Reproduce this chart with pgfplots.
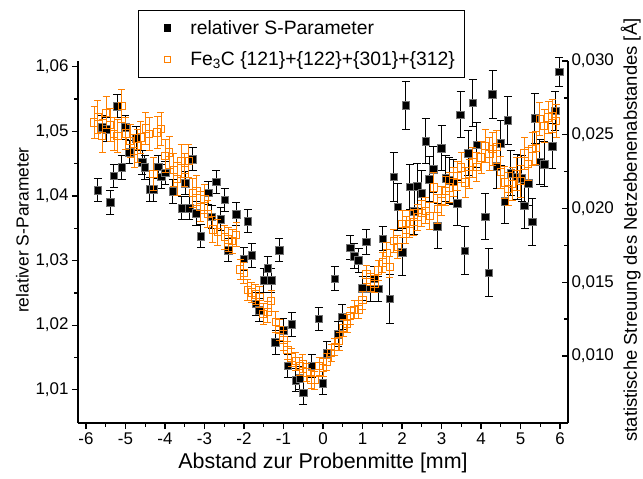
\documentclass[border=0pt]{standalone}
\usepackage{pgfplots}
\pgfplotsset{compat=1.18}
\usepackage{pgfplotstable}
\usepackage{fontspec}
\setmainfont{Liberation Sans}
\definecolor{myorange}{RGB}{255,128,0}
\pgfplotsset{mylegimg/.style={legend image code/.code={\path[draw=none,fill=none] (0bp,-3bp) rectangle (42bp,3bp); \draw[##1, mark size=3.3bp] plot coordinates {(21bp,0bp)};}}}

\pgfplotstableread{
x y e
-5.70 1.0409 0.0018
-5.59 1.0506 0.0018
-5.49 1.0503 0.0018
-5.38 1.0390 0.0018
-5.29 1.0431 0.0018
-5.21 1.0539 0.0018
-5.09 1.0444 0.0018
-5.00 1.0506 0.0018
-4.90 1.0468 0.0018
-4.73 1.0489 0.0018
-4.58 1.0452 0.0018
-4.51 1.0444 0.0018
-4.38 1.0410 0.0018
-4.30 1.0410 0.0018
-4.17 1.0445 0.0018
-4.09 1.0430 0.0018
-3.99 1.0436 0.0018
-3.80 1.0407 0.0018
-3.57 1.0381 0.0018
-3.48 1.0420 0.0018
-3.38 1.0381 0.0018
-3.30 1.0457 0.0018
-3.21 1.0373 0.0018
-3.09 1.0338 0.0018
-2.90 1.0405 0.0018
-2.81 1.0368 0.0018
-2.70 1.0422 0.0018
-2.59 1.0364 0.0018
-2.49 1.0394 0.0018
-2.40 1.0316 0.0018
-2.20 1.0372 0.0018
-2.00 1.0303 0.0018
-1.90 1.0361 0.0018
-1.80 1.0308 0.0018
-1.70 1.0233 0.0018
-1.61 1.0223 0.0018
-1.50 1.0269 0.0018
-1.40 1.0288 0.0018
-1.31 1.0269 0.0018
-1.20 1.0173 0.0018
-1.11 1.0316 0.0018
-1.00 1.0192 0.0018
-0.89 1.0137 0.0018
-0.79 1.0201 0.0018
-0.69 1.0115 0.0018
-0.59 1.0118 0.0018
-0.50 1.0095 0.0018
-0.28 1.0137 0.0018
-0.11 1.0210 0.0018
0.00 1.0110 0.0018
0.10 1.0156 0.0018
0.30 1.0272 0.0019
0.39 1.0186 0.0019
0.49 1.0213 0.0019
0.69 1.0320 0.0019
0.79 1.0307 0.0019
0.90 1.0300 0.0019
1.00 1.0257 0.0019
1.10 1.0329 0.0019
1.20 1.0256 0.0019
1.30 1.0272 0.0019
1.40 1.0256 0.0019
1.51 1.0334 0.0019
1.69 1.0241 0.0038
1.79 1.0430 0.0038
1.89 1.0383 0.0036
2.00 1.0313 0.0036
2.10 1.0540 0.0037
2.20 1.0414 0.0035
2.31 1.0376 0.0035
2.39 1.0415 0.0035
2.50 1.0404 0.0035
2.60 1.0485 0.0035
2.69 1.0426 0.0035
2.79 1.0441 0.0035
2.90 1.0353 0.0035
3.00 1.0474 0.0035
3.11 1.0427 0.0035
3.20 1.0424 0.0035
3.30 1.0422 0.0035
3.40 1.0389 0.0035
3.48 1.0526 0.0036
3.59 1.0315 0.0037
3.68 1.0466 0.0035
3.79 1.0544 0.0037
3.89 1.0479 0.0035
4.10 1.0368 0.0036
4.20 1.0281 0.0037
4.29 1.0557 0.0037
4.40 1.0446 0.0035
4.50 1.0482 0.0035
4.60 1.0392 0.0035
4.68 1.0517 0.0037
4.75 1.0435 0.0035
4.92 1.0430 0.0035
5.03 1.0427 0.0035
5.10 1.0385 0.0035
5.19 1.0420 0.0035
5.29 1.0360 0.0036
5.36 1.0520 0.0038
5.49 1.0453 0.0035
5.60 1.0449 0.0035
5.80 1.0477 0.0035
5.88 1.0532 0.0030
5.98 1.0592 0.0022
}\sparam

\pgfplotstableread{
x y e
-5.79 0.02583 0.0011
-5.70 0.02621 0.0011
-5.59 0.02493 0.0011
-5.49 0.02650 0.0011
-5.39 0.02567 0.0011
-5.29 0.02504 0.0011
-5.20 0.02493 0.0011
-5.09 0.02694 0.0011
-4.99 0.02508 0.0011
-4.88 0.02459 0.0011
-4.78 0.02391 0.0011
-4.69 0.02425 0.0011
-4.61 0.02481 0.0011
-4.49 0.02542 0.0011
-4.40 0.02504 0.0011
-4.29 0.02233 0.0011
-4.20 0.02515 0.0011
-4.10 0.02538 0.0011
-3.99 0.02357 0.0011
-3.89 0.02380 0.0011
-3.78 0.02261 0.0011
-3.69 0.02200 0.0011
-3.59 0.02323 0.0011
-3.50 0.02261 0.0011
-3.40 0.02323 0.0011
-3.30 0.02105 0.0010
-3.20 0.02121 0.0010
-3.10 0.02012 0.0010
-3.00 0.02064 0.0010
-2.92 0.01963 0.0009
-2.79 0.01857 0.0009
-2.66 0.01838 0.0009
-2.49 0.01805 0.0008
-2.40 0.01790 0.0008
-2.30 0.01778 0.0008
-2.20 0.01823 0.0008
-2.10 0.01586 0.0007
-2.01 0.01561 0.0007
-1.90 0.01449 0.0007
-1.80 0.01430 0.0007
-1.70 0.01417 0.0007
-1.60 0.01399 0.0007
-1.51 0.01286 0.0007
-1.40 0.01297 0.0007
-1.31 0.01372 0.0007
-1.20 0.01230 0.0007
-1.10 0.01174 0.0007
-1.00 0.01106 0.0007
-0.90 0.01038 0.0006
-0.80 0.00990 0.0006
-0.69 0.00964 0.0006
-0.59 0.00930 0.0006
-0.51 0.00948 0.0006
-0.41 0.00888 0.0006
-0.30 0.00840 0.0006
-0.21 0.00835 0.0006
-0.10 0.00930 0.0006
0.00 0.00920 0.0006
0.09 0.00959 0.0006
0.21 0.01020 0.0006
0.30 0.01060 0.0006
0.41 0.01100 0.0006
0.51 0.01190 0.0006
0.61 0.01219 0.0006
0.69 0.01272 0.0006
0.79 0.01313 0.0006
0.90 0.01315 0.0006
1.00 0.01377 0.0006
1.10 0.01552 0.0006
1.20 0.01500 0.0006
1.30 0.01489 0.0006
1.40 0.01579 0.0007
1.51 0.01634 0.0007
1.61 0.01700 0.0007
1.69 0.01605 0.0007
1.79 0.01780 0.0008
1.89 0.01740 0.0008
2.00 0.01895 0.0009
2.10 0.01855 0.0009
2.20 0.01895 0.0009
2.30 0.01906 0.0009
2.40 0.01940 0.0009
2.50 0.01967 0.0009
2.60 0.01985 0.0009
2.70 0.01949 0.0009
2.80 0.02143 0.0010
2.90 0.01997 0.0010
3.00 0.02050 0.0010
3.11 0.02120 0.0010
3.19 0.02143 0.0010
3.30 0.02180 0.0010
3.40 0.02222 0.0010
3.50 0.02278 0.0010
3.60 0.02177 0.0010
3.70 0.02234 0.0010
3.79 0.02312 0.0010
3.89 0.02283 0.0010
4.00 0.02346 0.0011
4.10 0.02425 0.0011
4.21 0.02369 0.0011
4.29 0.02403 0.0011
4.40 0.02418 0.0011
4.50 0.02245 0.0011
4.60 0.02177 0.0011
4.69 0.02132 0.0011
4.79 0.02166 0.0011
4.89 0.02234 0.0011
5.00 0.02184 0.0011
5.10 0.02373 0.0011
5.19 0.02301 0.0011
5.29 0.02403 0.0011
5.39 0.02409 0.0011
5.49 0.02606 0.0011
5.60 0.02560 0.0011
5.70 0.02617 0.0011
5.80 0.02628 0.0011
5.90 0.02594 0.0011
}\fec

\begin{document}
\begin{tikzpicture}
\useasboundingbox (-78bp,-56bp) rectangle (565bp,423bp);
\begin{axis}[
  at={(0,0)}, anchor=south west,
  scale only axis, width=490bp, height=362bp,
  xmin=-6.2, xmax=6.2, ymin=1.00485, ymax=1.0609,
  axis x line*=bottom, axis y line*=left,
  axis line style={line width=1.6bp},
  tick align=outside,
  major tick length=6bp, minor tick length=3.5bp,
  every tick/.style={black, line width=1.3bp},
  xtick={-6,-5,-4,-3,-2,-1,0,1,2,3,4,5,6},
  xticklabels={-6,-5,-4,-3,-2,-1,0,1,2,3,4,5,6},
  minor x tick num=1,
  ytick={1.01,1.02,1.03,1.04,1.05,1.06}, minor y tick num=1,
  /pgf/number format/use comma,
  /pgf/number format/fixed,
  /pgf/number format/fixed zerofill,
  /pgf/number format/precision=2,
  /pgf/number format/assume math mode=true,
  ticklabel style={font=\fontsize{17}{20}\selectfont},
  xlabel={Abstand zur Probenmitte [mm]},
  ylabel={relativer S-Parameter},
  xlabel style={font=\fontsize{21.5}{24}\selectfont, yshift=-2bp},
  ylabel style={font=\fontsize{17.5}{20}\selectfont, xshift=12bp},
  clip=false,
]
\addplot[only marks, mark=square*, mark size=3.8bp,
  mark options={fill=black, draw=black!55, line width=0.6bp},
  error bars/.cd, y dir=both, y explicit,
  error bar style={line width=1bp, black},
  error mark options={rotate=90, mark size=4bp, line width=1bp, black}]
  table[x=x, y=y, y error=e] {\sparam};
\end{axis}
\begin{axis}[
  at={(0,0)}, anchor=south west,
  scale only axis, width=490bp, height=362bp,
  xmin=-6.2, xmax=6.2, ymin=0.00545, ymax=0.0300,
  axis x line=none, axis y line*=right,
  axis line style={line width=1.6bp},
  tick align=inside,
  major tick length=6bp, minor tick length=3.5bp,
  every tick/.style={black, line width=1.3bp},
  ytick={0.010,0.015,0.020,0.025,0.030}, minor y tick num=1,
  scaled y ticks=false,
  /pgf/number format/use comma,
  /pgf/number format/fixed,
  /pgf/number format/fixed zerofill,
  /pgf/number format/precision=3,
  /pgf/number format/assume math mode=true,
  ticklabel style={font=\fontsize{17}{20}\selectfont},
  ylabel={statistische Streuung des Netzebenenabstandes [Å]},
  ylabel style={font=\fontsize{18.5}{21}\selectfont, xshift=12bp},
  clip=false,
  legend style={at={(0.1224,1.1409)}, anchor=north west, draw=black, line width=0.8bp,
    fill=white, font=\fontsize{19.4}{22}\selectfont, row sep=12bp,
    inner xsep=8bp, inner ysep=8bp},
  legend cell align=left,
]
\addlegendimage{only marks, mark=square*, mark options={fill=black, draw=black}, mylegimg}
\addlegendentry{relativer S-Parameter}
\addplot[only marks, color=myorange, mark=square, mark size=3.6bp,
  mark options={fill=myorange!6, draw=myorange, line width=0.9bp}, mylegimg,
  error bars/.cd, y dir=both, y explicit,
  error bar style={line width=0.9bp, myorange},
  error mark options={rotate=90, mark size=3.5bp, line width=0.9bp, myorange}]
  table[x=x, y=y, y error=e] {\fec};
\addlegendentry{Fe\textsubscript{3}C {\{}121{\}}+{\{}122{\}}+{\{}301{\}}+{\{}312{\}}}
\end{axis}
\end{tikzpicture}
\end{document}
